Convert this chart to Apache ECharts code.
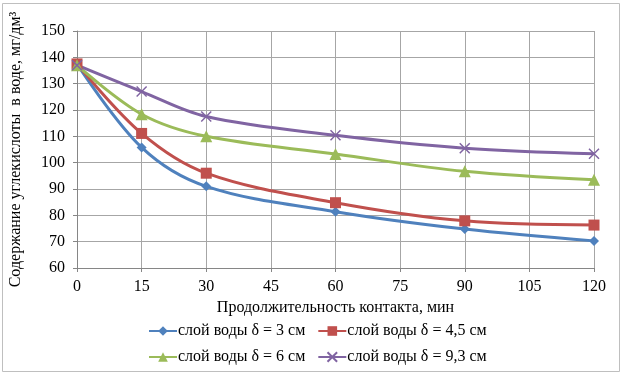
<!DOCTYPE html>
<html>
<head>
<meta charset="utf-8">
<script src="https://cdn.jsdelivr.net/npm/echarts@6/dist/echarts.min.js"></script>
<style>
  html, body { margin: 0; padding: 0; background: #fff; }
  #chart { width: 624px; height: 378px; }
</style>
</head>
<body>
<div id="chart"></div>
<script>
var minutes = [0, 15, 30, 60, 90, 120];
var layer3 = [137.5, 105.8, 91, 81.4, 74.8, 70.3];
var layer45 = [137.5, 111.1, 96, 84.8, 77.9, 76.3];
var layer6 = [137, 118.4, 110, 103.3, 96.7, 93.5];
var layer93 = [137, 127, 117.5, 110.4, 105.5, 103.4];
var seriesNames = ['слой воды δ = 3 см', 'слой воды δ = 4,5 см', 'слой воды δ = 6 см', 'слой воды δ = 9,3 см'];

function pairs(vals) {
    return minutes.map(function (m, i) { return [m, vals[i]]; });
}

var chart = echarts.init(document.getElementById('chart'));
var font = 'Liberation Serif, Times New Roman, serif';

function line(name, vals, color, symbol, size, stroke) {
    var s = {
        name: name,
        type: 'line',
        smooth: 0.35,
        data: pairs(vals),
        symbol: symbol,
        symbolSize: size,
        lineStyle: { color: color, width: 3 },
        itemStyle: { color: color },
        animation: false
    };
    if (stroke) {
        s.itemStyle = { color: color, borderColor: color, borderWidth: 1.5 };
    }
    return s;
}

var option = {
    backgroundColor: '#fff',
    textStyle: { fontFamily: font },
    graphic: [{
        type: 'rect',
        shape: { x: 2.5, y: 3.5, width: 617, height: 368 },
        style: { fill: 'none', stroke: '#bfbfbf', lineWidth: 1 }
    }],
    grid: { left: 73, right: 30, top: 31, bottom: 110 },
    xAxis: {
        type: 'value',
        min: 0, max: 120, interval: 15,
        name: 'Продолжительность контакта, мин',
        nameLocation: 'middle',
        nameGap: 32,
        nameTextStyle: { fontFamily: font, fontSize: 16, color: '#000' },
        axisLine: { show: true, lineStyle: { color: '#868686' } },
        axisTick: { show: true, length: 4, lineStyle: { color: '#868686' } },
        axisLabel: { fontFamily: font, fontSize: 16, color: '#000', margin: 11 },
        splitLine: { show: true, lineStyle: { color: '#a6a6a6' } }
    },
    yAxis: {
        type: 'value',
        min: 60, max: 150, interval: 10,
        name: 'Содержание углекислоты  в воде, мг/дм³',
        nameLocation: 'middle',
        nameGap: 53,
        nameTextStyle: { fontFamily: font, fontSize: 16, color: '#000' },
        axisLine: { show: true, lineStyle: { color: '#868686' } },
        axisTick: { show: true, length: 4, lineStyle: { color: '#868686' } },
        axisLabel: { fontFamily: font, fontSize: 16, color: '#000', margin: 12 },
        splitLine: { show: true, lineStyle: { color: '#a6a6a6' } }
    },
    legend: [{
        data: [seriesNames[0], seriesNames[1]],
        left: 143, top: 318,
        itemWidth: 28, itemHeight: 12, itemGap: 12,
        textStyle: { fontFamily: font, fontSize: 16, color: '#000', padding: [0, 0, 0, -4] }
    }, {
        data: [seriesNames[2], seriesNames[3]],
        left: 143, top: 344,
        itemWidth: 28, itemHeight: 12, itemGap: 12,
        textStyle: { fontFamily: font, fontSize: 16, color: '#000', padding: [0, 0, 0, -4] }
    }],
    series: [
        line(seriesNames[0], layer3, '#4f81bd', 'diamond', 10),
        line(seriesNames[1], layer45, '#c0504d', 'rect', 11),
        line(seriesNames[2], layer6, '#9bbb59', 'triangle', 12),
        line(seriesNames[3], layer93, '#8064a2', 'path://M0,0 L10,10 M10,0 L0,10', 10, true)
    ]
};

chart.setOption(option);
</script>
</body>
</html>
